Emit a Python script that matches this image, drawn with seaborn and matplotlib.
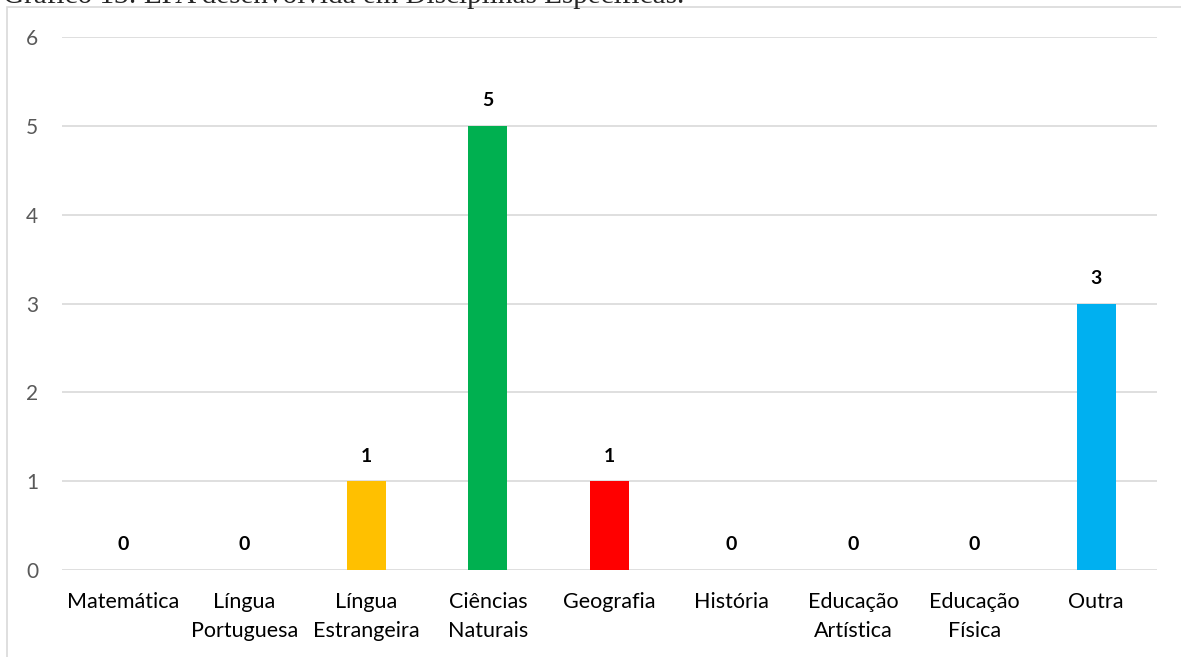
import matplotlib
matplotlib.use("Agg")
import matplotlib.pyplot as plt
from matplotlib.patches import Rectangle
import seaborn as sns
import pandas as pd

categories = ["Matemática", "Língua\nPortuguesa", "Língua\nEstrangeira", "Ciências\nNaturais",
              "Geografia", "História", "Educação\nArtística", "Educação\nFísica", "Outra"]
values = [0, 0, 1, 5, 1, 0, 0, 0, 3]
colors = ["#FFC000", "#FFC000", "#FFC000", "#00B050", "#FF0000", "#FF0000", "#FF0000", "#FF0000", "#00B0F0"]
yticks = [0, 1, 2, 3, 4, 5, 6]
title = "Gráfico 13: EPA desenvolvida em Disciplinas Específicas."

sns.set_theme(style="white")
plt.rcParams['font.family'] = ['Lato', 'DejaVu Sans']

W, H = 1181, 657
fig = plt.figure(figsize=(W / 100, H / 100), dpi=100)
ax = fig.add_axes([62 / W, 1 - 570 / H, (1157 - 62) / W, (570 - 37) / H])

df = pd.DataFrame({"cat": categories, "val": values})
sns.barplot(data=df, x="cat", y="val", hue="cat", palette=dict(zip(categories, colors)),
            legend=False, width=0.32, saturation=1, linewidth=0, ax=ax, zorder=3)

ax.set_ylim(0, 6)
ax.set_yticks(yticks)
ax.yaxis.grid(True, color="#D9D9D9", linewidth=1.2, zorder=0)
ax.set_axisbelow(True)
for s in ax.spines.values():
    s.set_visible(False)
ax.set_xlabel("")
ax.set_ylabel("")
ax.tick_params(axis="x", length=0, labelsize=15.5, labelcolor="#000000", pad=16)
ax.tick_params(axis="y", length=0, labelsize=15, labelcolor="#595959", pad=17)
for lbl in ax.get_xticklabels():
    lbl.set_linespacing(1.55)

for i, v in enumerate(values):
    ax.annotate(str(v), (i, v), xytext=(0, 12), textcoords="offset points",
                ha="center", va="bottom", fontsize=14, fontweight="bold", color="black")

# outer border
fig.patches.append(Rectangle((7 / W, -0.1), 1.2, 1.1 - 7 / H, transform=fig.transFigure,
                             fill=False, edgecolor="#D9D9D9", linewidth=1.2))

fig.text(3 / W, 1 - 3 / H, title, family="Liberation Serif", fontsize=21, va="baseline", ha="left")

fig.savefig("out.png", dpi=100, facecolor="white")
